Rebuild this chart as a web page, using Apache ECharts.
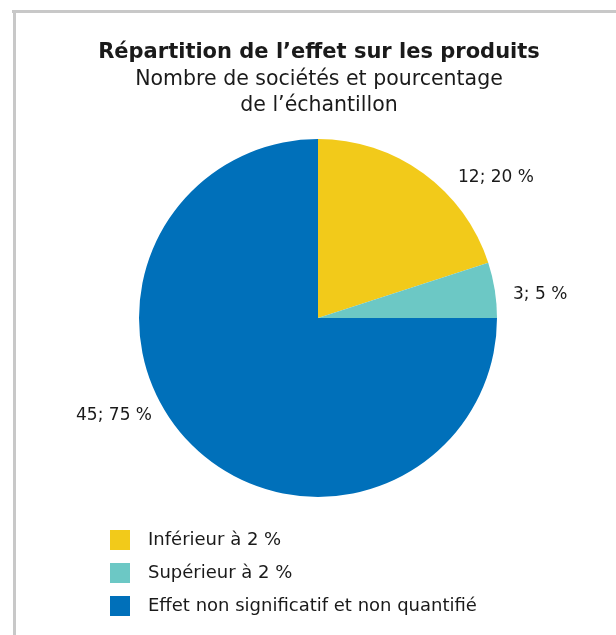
<!DOCTYPE html>
<html>
<head>
<meta charset="utf-8">
<script src="https://cdn.jsdelivr.net/npm/echarts@6/dist/echarts.min.js"></script>
<style>
html,body{margin:0;padding:0;background:#fff;}
#main{width:616px;height:635px;}
</style>
</head>
<body>
<div id="main"></div>
<script>
var categories = ['Inférieur à 2 %', 'Supérieur à 2 %', 'Effet non significatif et non quantifié'];
var counts = [12, 3, 45];
var percents = [20, 5, 75];
var colors = ['#F2CA1A', '#6CC8C5', '#0070BA'];
var labelPos = [[458, 178], [513, 295], [152, 416]];
var labelAlign = ['left', 'left', 'right'];

var chart = echarts.init(document.getElementById('main'), null, {renderer: 'canvas'});
var FONT = '"DejaVu Sans", "Noto Sans", sans-serif';
var data = categories.map(function (c, i) {
  return { name: c, value: counts[i], pct: percents[i], itemStyle: { color: colors[i] } };
});

chart.setOption({
  backgroundColor: '#ffffff',
  animation: false,
  graphic: [
    { type: 'line', shape: { x1: 12, y1: 11.5, x2: 616, y2: 11.5 }, style: { stroke: '#c8c8c8', lineWidth: 3 } },
    { type: 'line', shape: { x1: 14.5, y1: 10, x2: 14.5, y2: 635 }, style: { stroke: '#c8c8c8', lineWidth: 3 } }
  ],
  title: {
    text: 'Répartition de l’effet sur les produits',
    subtext: 'Nombre de sociétés et pourcentage\nde l’échantillon',
    left: 319,
    textAlign: 'center',
    top: 39,
    itemGap: 0,
    padding: 0,
    textStyle: { fontFamily: FONT, fontSize: 21, fontWeight: 'bold', color: '#1a1a1a', lineHeight: 28 },
    subtextStyle: { fontFamily: FONT, fontSize: 20.5, color: '#1a1a1a', lineHeight: 26 }
  },
  legend: {
    orient: 'vertical',
    left: 110,
    top: 530,
    padding: 0,
    itemWidth: 20,
    itemHeight: 20,
    itemGap: 13,
    icon: 'rect',
    selectedMode: false,
    textStyle: { fontFamily: FONT, fontSize: 18, color: '#1a1a1a', padding: [0, 0, 0, 13] },
    data: categories
  },
  series: [{
    type: 'pie',
    center: [318, 318],
    radius: [0, 179],
    startAngle: 90,
    clockwise: true,
    silent: true,
    label: {
      show: true,
      position: 'outside',
      fontFamily: FONT,
      fontSize: 17,
      color: '#1a1a1a',
      formatter: function (p) { return p.data.value + '; ' + p.data.pct + ' %'; }
    },
    labelLine: { show: false },
    labelLayout: function (p) {
      var i = p.dataIndex;
      return { x: labelPos[i][0], y: labelPos[i][1], align: labelAlign[i], verticalAlign: 'middle' };
    },
    data: data
  }]
});
</script>
</body>
</html>
